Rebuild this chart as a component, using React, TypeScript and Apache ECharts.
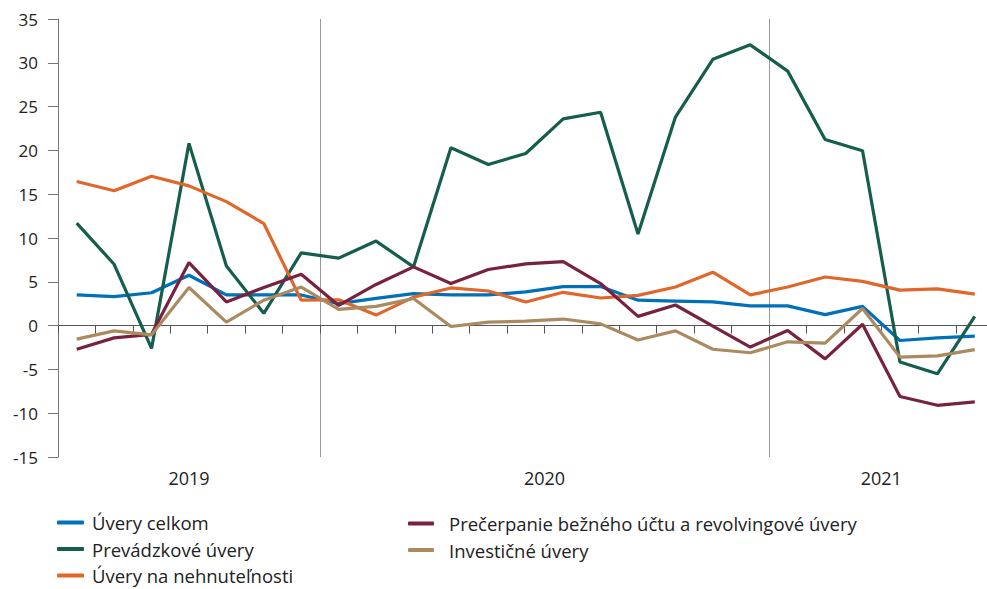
import React, { useEffect, useRef } from "react";
import * as echarts from "echarts";

const months = [
  "2019-06", "2019-07", "2019-08", "2019-09", "2019-10", "2019-11", "2019-12",
  "2020-01", "2020-02", "2020-03", "2020-04", "2020-05", "2020-06",
  "2020-07", "2020-08", "2020-09", "2020-10", "2020-11", "2020-12",
  "2021-01", "2021-02", "2021-03", "2021-04", "2021-05", "2021-06",
];

const yearLabels = ["2019", "2020", "2021"];

const seriesNames = [
  "Úvery celkom",
  "Prevádzkové úvery",
  "Úvery na nehnuteľnosti",
  "Prečerpanie bežného účtu a revolvingové úvery",
  "Investičné úvery",
];

const uveryCelkom = [3.5, 3.3, 3.75, 5.75, 3.5, 3.5, 3.5, 2.5, 3.1, 3.65, 3.5, 3.5, 3.85, 4.45, 4.45, 2.9, 2.8, 2.7, 2.25, 2.25, 1.25, 2.2, -1.7, -1.4, -1.2];
const prevadzkove = [11.7, 7.0, -2.6, 20.8, 6.8, 1.4, 8.3, 7.7, 9.65, 6.7, 20.3, 18.4, 19.65, 23.6, 24.35, 10.45, 23.8, 30.4, 32.05, 29.05, 21.25, 19.95, -4.15, -5.5, 1.05];
const nehnutelnosti = [16.45, 15.4, 17.05, 15.95, 14.15, 11.65, 2.9, 2.95, 1.2, 3.25, 4.3, 3.95, 2.7, 3.8, 3.15, 3.45, 4.4, 6.1, 3.5, 4.4, 5.55, 5.05, 4.05, 4.2, 3.6];
const precerpanie = [-2.7, -1.4, -1.0, 7.2, 2.7, 4.35, 5.85, 2.3, 4.7, 6.7, 4.8, 6.4, 7.05, 7.3, 4.8, 1.05, 2.35, -0.05, -2.45, -0.55, -3.8, 0.15, -8.1, -9.1, -8.7];
const investicne = [-1.55, -0.6, -1.05, 4.35, 0.4, 2.9, 4.4, 1.85, 2.2, 3.1, -0.1, 0.4, 0.5, 0.75, 0.2, -1.65, -0.6, -2.7, -3.1, -1.85, -2.0, 1.95, -3.6, -3.45, -2.75];

const seriesColors = ["#0070b9", "#155e4d", "#e0662a", "#782240", "#ab8a60"];

const FONT = "'Open Sans', sans-serif";

export default function App() {
  const ref = useRef<HTMLDivElement>(null);

  useEffect(() => {
    if (!ref.current) return;
    const chart = echarts.init(ref.current, undefined, { renderer: "svg" });

    const allData = [uveryCelkom, prevadzkove, nehnutelnosti, precerpanie, investicne];

    // year separators: index of first month of each new year
    const separatorIdx: number[] = [];
    months.forEach((m, i) => {
      if (i > 0 && m.endsWith("-01")) separatorIdx.push(i);
    });
    // year label centres (in category units)
    const yearCenters: Record<string, string> = {};
    yearLabels.forEach((y) => {
      const idx = months.map((m, i) => (m.startsWith(y) ? i : -1)).filter((i) => i >= 0);
      const c = (idx[0] + idx[idx.length - 1] + 1) / 2;
      yearCenters[String(c)] = y;
    });

    const textStyle = { fontFamily: FONT, color: "#222" };

    chart.setOption({
      animation: false,
      textStyle: { fontFamily: FONT },
      grid: { left: 58, top: 19, right: 6.5, bottom: 132 },
      xAxis: [
        {
          type: "category",
          data: months,
          boundaryGap: true,
          position: "bottom",
          axisLine: { show: true, onZero: true, lineStyle: { color: "#555", width: 1 } },
          axisTick: { show: true, interval: 0, length: 8, lineStyle: { color: "#555", width: 1 } },
          axisLabel: { show: false },
          splitLine: {
            show: true,
            interval: (i: number) => separatorIdx.includes(i),
            lineStyle: { color: "#999", width: 1 },
          },
        },
        {
          type: "value",
          min: 0,
          max: months.length,
          interval: 0.5,
          position: "bottom",
          axisLine: { show: false, onZero: false },
          axisTick: { show: false },
          splitLine: { show: false },
          axisLabel: {
            ...textStyle,
            fontSize: 18,
            margin: 12,
            showMinLabel: true,
            showMaxLabel: true,
            formatter: (v: number) => yearCenters[String(v)] || "",
          },
        },
      ],
      yAxis: {
        type: "value",
        min: -15,
        max: 35,
        interval: 5,
        axisLine: { show: true, lineStyle: { color: "#777", width: 1 } },
        axisTick: { show: true, length: 10, lineStyle: { color: "#777", width: 1 } },
        splitLine: { show: false },
        axisLabel: { ...textStyle, fontSize: 17, margin: 20 },
      },
      legend: [
        {
          data: seriesNames.slice(0, 3),
          orient: "vertical",
          left: 57,
          top: 513,
          width: 300,
          height: 120,
          padding: 0,
          itemWidth: 27,
          itemHeight: 4,
          itemGap: 7.5,
          icon: "roundRect",
          selectedMode: false,
          textStyle: { ...textStyle, fontSize: 18.5, lineHeight: 18, padding: [0, 0, 0, 3] },
        },
        {
          data: seriesNames.slice(3),
          orient: "vertical",
          left: 408,
          top: 514,
          width: 560,
          height: 120,
          padding: 0,
          itemWidth: 26,
          itemHeight: 4,
          itemGap: 7.5,
          icon: "roundRect",
          selectedMode: false,
          textStyle: { ...textStyle, fontSize: 18.5, lineHeight: 18, padding: [0, 0, 0, 10] },
        },
      ],
      series: seriesNames.map((name, k) => ({
        name,
        type: "line",
        xAxisIndex: 0,
        yAxisIndex: 0,
        data: allData[k],
        symbol: "none",
        smooth: false,
        color: seriesColors[k],
        lineStyle: { color: seriesColors[k], width: 3.2 },
        emphasis: { disabled: true },
      })),
    });

    return () => chart.dispose();
  }, []);

  return (
    <div style={{ position: "fixed", left: 0, top: 0, width: 987, height: 589, overflow: "hidden", background: "#fff" }}>
      <div ref={ref} style={{ width: 1000, height: 589 }} />
    </div>
  );
}
